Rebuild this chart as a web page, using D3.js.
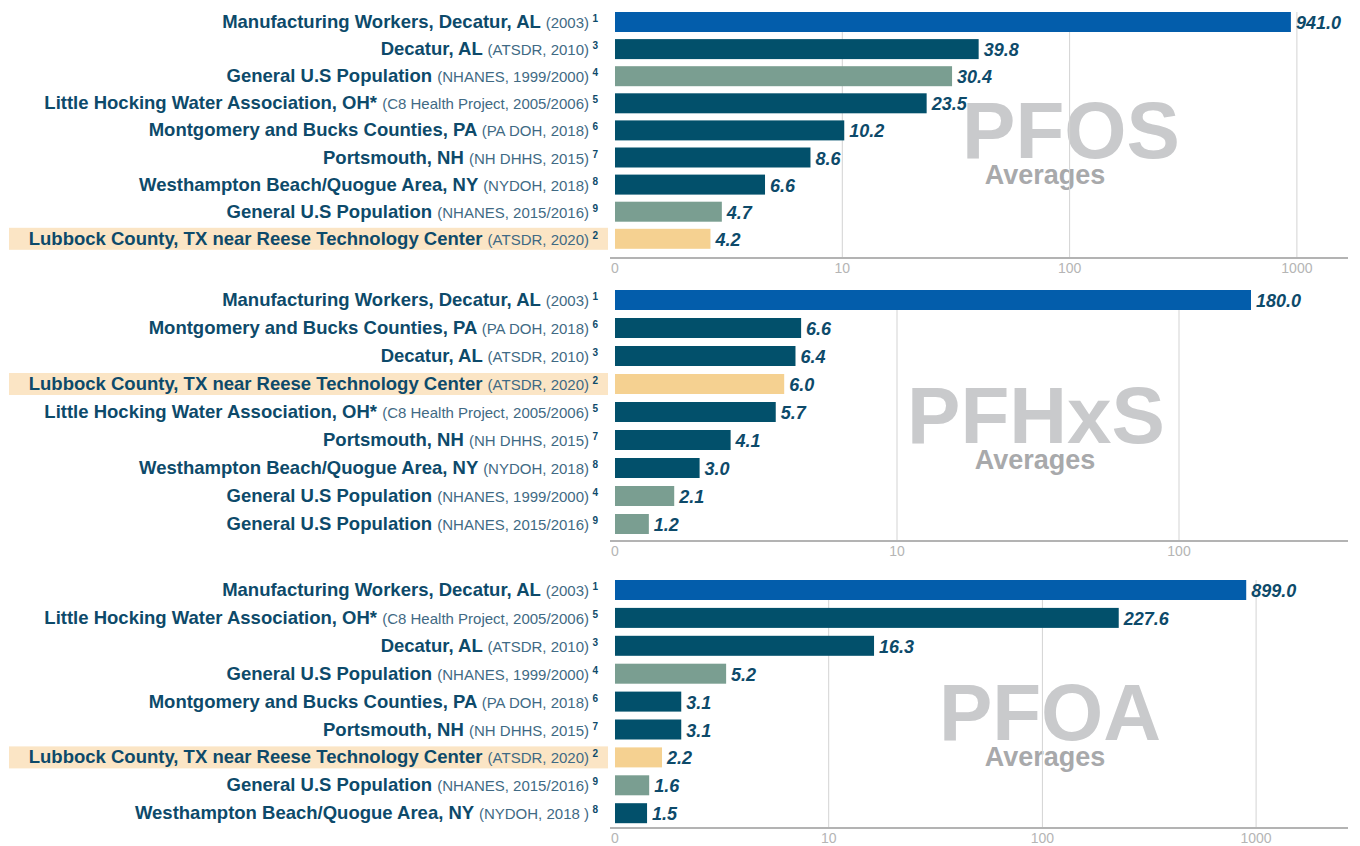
<!DOCTYPE html>
<html>
<head>
<meta charset="utf-8">
<script src="https://cdn.jsdelivr.net/npm/d3@7"></script>
<style>
  body { margin: 0; background: #fff; }
  svg { display: block; font-family: "Liberation Sans", Arial, sans-serif; }
</style>
</head>
<body>
<div id="chart"></div>
<script>
// ---- data (serum averages, ug/L) ----
var pfosNames = ["Manufacturing Workers, Decatur, AL", "Decatur, AL", "General U.S Population", "Little Hocking Water Association, OH*", "Montgomery and Bucks Counties, PA", "Portsmouth, NH", "Westhampton Beach/Quogue Area, NY", "General U.S Population", "Lubbock County, TX near Reese Technology Center"];
var pfosSources = ["(2003)", "(ATSDR, 2010)", "(NHANES, 1999/2000)", "(C8 Health Project, 2005/2006)", "(PA DOH, 2018)", "(NH DHHS, 2015)", "(NYDOH, 2018)", "(NHANES, 2015/2016)", "(ATSDR, 2020)"];
var pfosNotes = ["1", "3", "4", "5", "6", "7", "8", "9", "2"];
var pfosValues = [941.0, 39.8, 30.4, 23.5, 10.2, 8.6, 6.6, 4.7, 4.2];

var pfhxsNames = ["Manufacturing Workers, Decatur, AL", "Montgomery and Bucks Counties, PA", "Decatur, AL", "Lubbock County, TX near Reese Technology Center", "Little Hocking Water Association, OH*", "Portsmouth, NH", "Westhampton Beach/Quogue Area, NY", "General U.S Population", "General U.S Population"];
var pfhxsSources = ["(2003)", "(PA DOH, 2018)", "(ATSDR, 2010)", "(ATSDR, 2020)", "(C8 Health Project, 2005/2006)", "(NH DHHS, 2015)", "(NYDOH, 2018)", "(NHANES, 1999/2000)", "(NHANES, 2015/2016)"];
var pfhxsNotes = ["1", "6", "3", "2", "5", "7", "8", "4", "9"];
var pfhxsValues = [180.0, 6.6, 6.4, 6.0, 5.7, 4.1, 3.0, 2.1, 1.2];

var pfoaNames = ["Manufacturing Workers, Decatur, AL", "Little Hocking Water Association, OH*", "Decatur, AL", "General U.S Population", "Montgomery and Bucks Counties, PA", "Portsmouth, NH", "Lubbock County, TX near Reese Technology Center", "General U.S Population", "Westhampton Beach/Quogue Area, NY"];
var pfoaSources = ["(2003)", "(C8 Health Project, 2005/2006)", "(ATSDR, 2010)", "(NHANES, 1999/2000)", "(PA DOH, 2018)", "(NH DHHS, 2015)", "(ATSDR, 2020)", "(NHANES, 2015/2016)", "(NYDOH, 2018 )"];
var pfoaNotes = ["1", "5", "3", "4", "6", "7", "2", "9", "8"];
var pfoaValues = [899.0, 227.6, 16.3, 5.2, 3.1, 3.1, 2.2, 1.6, 1.5];

var tickValues = [0, 10, 100, 1000];
var tickLabels = ["0", "10", "100", "1000"];

// ---- layout ----
var width = 1360, height = 846;
var x0 = 615, xEnd = 1348, labelRight = 589;
var barH = 20;

var panels = [
    { title: "PFOS", names: pfosNames, sources: pfosSources, notes: pfosNotes, values: pfosValues,
      top: 22, step: 27.1, axisY: 258, decade: 227.3, mark: [1071, 158], avg: [1045, 184] },
    { title: "PFHxS", names: pfhxsNames, sources: pfhxsSources, notes: pfhxsNotes, values: pfhxsValues,
      top: 300, step: 28, axisY: 541, decade: 282, mark: [1036, 443], avg: [1035, 469] },
    { title: "PFOA", names: pfoaNames, sources: pfoaSources, notes: pfoaNotes, values: pfoaValues,
      top: 590, step: 27.9, axisY: 828, decade: 213.7, mark: [1050, 740], avg: [1045, 766] }
];

var textColor = "#0d4a6a";

function barColor(name) {
    if (name.indexOf("Manufacturing") === 0) return "#035dab";
    if (name.indexOf("General") === 0) return "#7a9e91";
    if (name.indexOf("Lubbock") === 0) return "#f5d191";
    return "#02506b";
}

var svg = d3.select("#chart")
    .append("svg")
    .attr("width", width)
    .attr("height", height);

panels.forEach(function(p) {
    // linear first decade, log beyond (as in the original chart)
    var xMax = Math.pow(10, 1 + (xEnd - x0 - p.decade) / p.decade);
    var lin = d3.scaleLinear().domain([0, 10]).range([x0, x0 + p.decade]);
    var lg = d3.scaleLog().domain([10, xMax]).range([x0 + p.decade, xEnd]);
    var x = function(v) { return v <= 10 ? lin(v) : lg(v); };

    var y = d3.scaleBand()
        .domain(d3.range(p.values.length))
        .range([p.top - p.step / 2, p.top + p.step * (p.values.length - 0.5)])
        .paddingInner(0);

    var g = svg.append("g");

    // watermark
    g.append("text")
        .attr("x", p.mark[0]).attr("y", p.mark[1])
        .attr("text-anchor", "middle")
        .attr("font-size", 80).attr("font-weight", "bold")
        .attr("fill", "#c9cacc")
        .text(p.title);
    g.append("text")
        .attr("x", p.avg[0]).attr("y", p.avg[1])
        .attr("text-anchor", "middle")
        .attr("font-size", 27).attr("font-weight", "bold")
        .attr("fill", "#a8a9ab")
        .text("Averages");

    // grid lines
    var ticks = tickValues.filter(function(t) { return t <= xMax; });
    g.selectAll(".grid")
        .data(ticks.slice(1))
        .enter().append("line")
        .attr("x1", function(d) { return x(d); })
        .attr("x2", function(d) { return x(d); })
        .attr("y1", p.top - barH / 2)
        .attr("y2", p.axisY)
        .attr("stroke", "#d3d3d3")
        .attr("stroke-width", 1);

    // axis
    g.append("line")
        .attr("x1", x0 - 5).attr("x2", xEnd)
        .attr("y1", p.axisY).attr("y2", p.axisY)
        .attr("stroke", "#b3b3b3").attr("stroke-width", 2);
    g.selectAll(".tick")
        .data(ticks)
        .enter().append("text")
        .attr("x", function(d) { return x(d); })
        .attr("y", p.axisY + 15)
        .attr("text-anchor", "middle")
        .attr("font-size", 14)
        .attr("fill", "#b5b5b5")
        .text(function(d) { return tickLabels[tickValues.indexOf(d)]; });

    var rows = p.values.map(function(v, i) {
        return { name: p.names[i], source: p.sources[i], note: p.notes[i], value: v, i: i };
    });

    // highlight for Lubbock row
    g.selectAll(".hl")
        .data(rows.filter(function(d) { return d.name.indexOf("Lubbock") === 0; }))
        .enter().append("rect")
        .attr("x", 9).attr("width", 599)
        .attr("y", function(d) { return p.top + d.i * p.step - 11; })
        .attr("height", 22)
        .attr("fill", "#fbe5c5");

    // bars
    g.selectAll(".bar")
        .data(rows)
        .enter().append("rect")
        .attr("x", x0)
        .attr("y", function(d) { return y(d.i) + (p.step - barH) / 2; })
        .attr("width", function(d) { return x(d.value) - x0; })
        .attr("height", barH)
        .attr("fill", function(d) { return barColor(d.name); });

    // value labels
    g.selectAll(".val")
        .data(rows)
        .enter().append("text")
        .attr("x", function(d) { return x(d.value) + 5; })
        .attr("y", function(d) { return p.top + d.i * p.step + 7; })
        .attr("font-size", 18).attr("font-weight", "bold").attr("font-style", "italic")
        .attr("fill", textColor)
        .text(function(d) { return d.value.toFixed(1); });

    // category labels
    var lab = g.selectAll(".lab")
        .data(rows)
        .enter().append("text")
        .attr("x", labelRight)
        .attr("y", function(d) { return p.top + d.i * p.step + 6; })
        .attr("text-anchor", "end")
        .attr("fill", textColor);
    lab.append("tspan")
        .attr("font-size", 18.5).attr("font-weight", "bold")
        .text(function(d) { return d.name + " "; });
    lab.append("tspan")
        .attr("font-size", 15)
        .attr("fill", "#3f6a84")
        .text(function(d) { return d.source; });

    g.selectAll(".note")
        .data(rows)
        .enter().append("text")
        .attr("x", 598)
        .attr("y", function(d) { return p.top + d.i * p.step; })
        .attr("text-anchor", "end")
        .attr("font-size", 10).attr("font-weight", "bold")
        .attr("fill", textColor)
        .text(function(d) { return d.note; });
});
</script>
</body>
</html>
